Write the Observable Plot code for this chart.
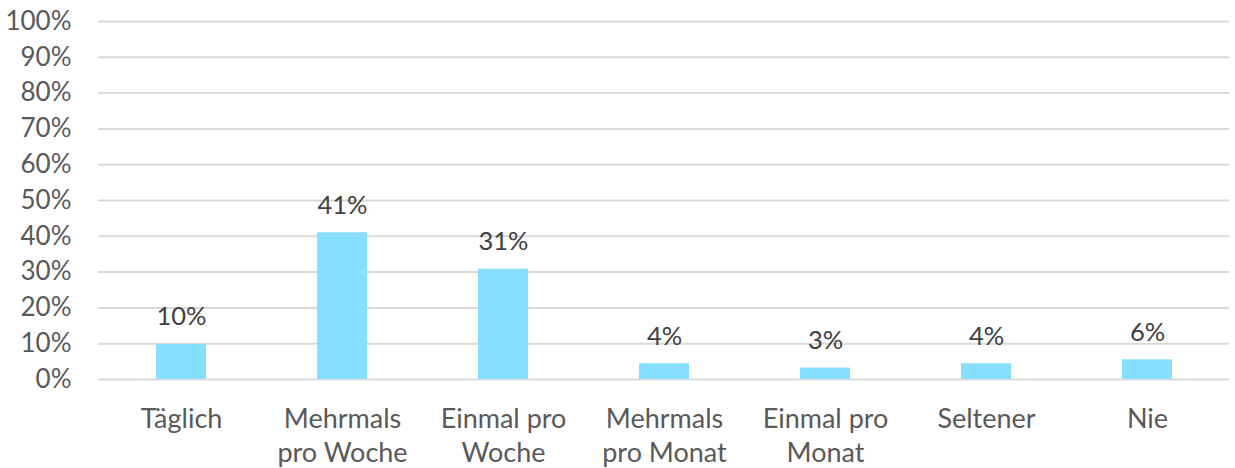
<!DOCTYPE html>
<html>
<head>
<meta charset="utf-8">
<script src="https://cdn.jsdelivr.net/npm/d3@7"></script>
<script src="https://cdn.jsdelivr.net/npm/@observablehq/plot@0.6"></script>
<style>
  html, body { margin: 0; padding: 0; background: #fff; }
  #chart svg { display: block; }
</style>
</head>
<body>
<div id="chart"></div>
<script>
const categories = ["Täglich", "Mehrmals pro Woche", "Einmal pro Woche", "Mehrmals pro Monat", "Einmal pro Monat", "Seltener", "Nie"];
const tickLabels = ["Täglich", "Mehrmals\npro Woche", "Einmal pro\nWoche", "Mehrmals\npro Monat", "Einmal pro\nMonat", "Seltener", "Nie"];
const values = [9.8, 41, 30.8, 4.4, 3.2, 4.4, 5.5];
const valueLabels = ["10%", "41%", "31%", "4%", "3%", "4%", "6%"];
const yTicks = [0, 10, 20, 30, 40, 50, 60, 70, 80, 90, 100];

const data = categories.map((c, i) => ({ category: c, value: values[i], label: valueLabels[i] }));
const labelOf = new Map(categories.map((c, i) => [c, tickLabels[i]]));

const chart = Plot.plot({
  width: 1235,
  height: 468,
  marginLeft: 98,
  marginRight: 6,
  marginTop: 21,
  marginBottom: 89,
  style: { fontFamily: "Lato, sans-serif", background: "#fff" },
  x: { domain: categories, paddingInner: 0.69, paddingOuter: 0.345, align: 0.5 },
  y: { domain: [0, 100] },
  marks: [
    Plot.ruleY(yTicks, { stroke: "#d9d9d9", strokeWidth: 2 }),
    Plot.barY(data, { x: "category", y: "value", fill: "#87dfff" }),
    Plot.text(data, { x: "category", y: "value", text: "label", lineAnchor: "bottom", dy: -19, fill: "#404040", fontSize: 25.5 }),
    Plot.axisY({ ticks: yTicks, tickFormat: d => d + "%", tickSize: 0, tickPadding: 27, fontSize: 26, color: "#595959", label: null }),
    Plot.axisX({ tickFormat: d => labelOf.get(d), tickSize: 0, tickPadding: 24, fontSize: 27, color: "#595959", lineHeight: 1.26, lineAnchor: "top", label: null })
  ]
});
document.getElementById("chart").appendChild(chart);
</script>
</body>
</html>
